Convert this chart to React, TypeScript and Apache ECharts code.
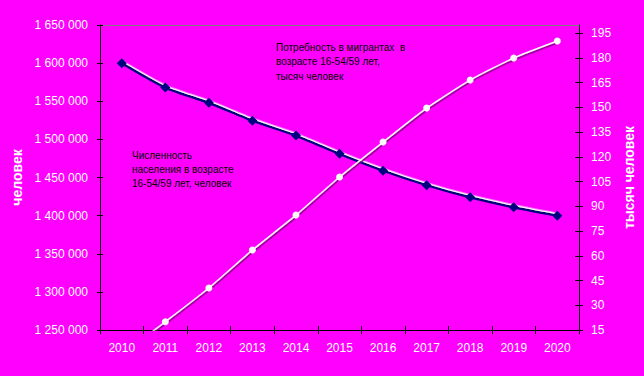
import React, { useEffect, useRef } from "react";
import * as echarts from "echarts";

const years = ["2010", "2011", "2012", "2013", "2014", "2015", "2016", "2017", "2018", "2019", "2020"];
const population = [1600000, 1568000, 1548000, 1524500, 1505000, 1481000, 1459000, 1440000, 1424000, 1411000, 1400000];
const migrants = [0, 20, 40.5, 63.5, 84.7, 107.8, 129, 149.6, 166.6, 180, 190.3];
const rightTicks = [15, 30, 45, 60, 75, 90, 105, 120, 135, 150, 165, 180, 195];

const leftName = "человек";
const rightName = "тысяч человек";
const note1 = ["Потребность в мигрантах  в", "возрасте 16-54/59 лет,", "тысяч человек"];
const note2 = ["Численность", "населения в возрасте", "16-54/59 лет, человек"];

const FONT = "'Liberation Sans', Arial, sans-serif";
const BG = "#FF00FF";

const fmt = (v: number) => String(v).replace(/\B(?=(\d{3})+(?!\d))/g, " ");

export default function App() {
  const ref = useRef<HTMLDivElement>(null);
  useEffect(() => {
    if (!ref.current) return;
    const chart = echarts.init(ref.current, null, { renderer: "svg" });
    const grid = { left: 100, right: 58, top: 25, bottom: 46 };
    const axisLabelStyle = { color: "#fff", fontSize: 12, fontFamily: FONT };
    chart.setOption({
      animation: false,
      backgroundColor: BG,
      grid,
      textStyle: { fontFamily: FONT },
      xAxis: [
        {
          type: "category",
          data: years,
          position: "bottom",
          boundaryGap: true,
          axisLine: { onZero: false, lineStyle: { color: "#000", width: 1 } },
          axisTick: { show: true, length: 4, lineStyle: { color: "#000" } },
          axisLabel: { ...axisLabelStyle, margin: 12 },
          splitLine: { show: false },
        },
        {
          type: "category",
          data: years,
          position: "bottom",
          boundaryGap: true,
          axisLine: { show: false, onZero: false },
          axisTick: { show: true, inside: true, length: 4, lineStyle: { color: "#000" } },
          axisLabel: { show: false },
          splitLine: { show: false },
        },
        {
          type: "category",
          data: years,
          position: "top",
          axisLine: { onZero: false, lineStyle: { color: "#808080", width: 1 } },
          axisTick: { show: false },
          axisLabel: { show: false },
          splitLine: { show: false },
        },
      ],
      yAxis: [
        {
          type: "value",
          position: "left",
          min: 1250000,
          max: 1650000,
          interval: 50000,
          name: leftName,
          nameLocation: "middle",
          nameRotate: 90,
          nameGap: 72,
          nameTextStyle: { color: "#fff", fontSize: 14, fontWeight: "bold", fontFamily: FONT },
          axisLine: { show: true, onZero: false, lineStyle: { color: "#000", width: 1 } },
          axisTick: { show: true, length: 3, lineStyle: { color: "#000" } },
          axisLabel: { ...axisLabelStyle, margin: 12, formatter: (v: number) => fmt(v) },
          splitLine: { show: false },
        },
        {
          type: "value",
          position: "right",
          min: 15,
          max: 200,
          interval: 15,
          name: rightName,
          nameLocation: "middle",
          nameRotate: 90,
          nameGap: 26,
          nameTextStyle: { color: "#fff", fontSize: 14, fontWeight: "bold", fontFamily: FONT },
          axisLine: { show: true, onZero: false, lineStyle: { color: "#000", width: 1 } },
          axisTick: { show: true, length: 4, customValues: rightTicks, lineStyle: { color: "#000" } },
          axisLabel: { ...axisLabelStyle, margin: 12, customValues: rightTicks },
          splitLine: { show: false },
        },
        {
          type: "value",
          position: "left",
          min: 1250000,
          max: 1650000,
          interval: 50000,
          axisLine: { show: false, onZero: false },
          axisTick: { show: true, inside: true, length: 3, lineStyle: { color: "#000" } },
          axisLabel: { show: false },
          splitLine: { show: false },
        },
        {
          type: "value",
          position: "right",
          min: 15,
          max: 200,
          interval: 15,
          axisLine: { show: false, onZero: false },
          axisTick: { show: true, inside: true, length: 4, customValues: rightTicks, lineStyle: { color: "#000" } },
          axisLabel: { show: false },
          splitLine: { show: false },
        },
      ],
      series: [
        {
          name: "Численность населения",
          type: "line",
          xAxisIndex: 0,
          yAxisIndex: 0,
          data: population,
          smooth: 0.2,
          symbol: "diamond",
          symbolSize: 10,
          lineStyle: {
            color: "#000080",
            width: 2.5,
            shadowColor: "#ffffff",
            shadowOffsetX: 0,
            shadowOffsetY: -1.5,
            shadowBlur: 0,
          },
          itemStyle: { color: "#000080" },
          z: 3,
        },
        {
          name: "Потребность в мигрантах",
          type: "line",
          xAxisIndex: 0,
          yAxisIndex: 1,
          data: migrants,
          smooth: 0.2,
          clip: true,
          symbol: "circle",
          symbolSize: 7,
          showAllSymbol: true,
          lineStyle: {
            color: "#ffffff",
            width: 1.5,
            shadowColor: "#800080",
            shadowOffsetX: 1,
            shadowOffsetY: 1.5,
            shadowBlur: 0,
          },
          itemStyle: { color: "#ffffff" },
          z: 4,
        },
      ],
      graphic: [
        {
          type: "text",
          left: 276,
          top: 40,
          style: {
            text: note1.join("\n"),
            fill: "#000",
            font: `10px ${FONT}`,
            lineHeight: 14.5,
          },
          z: 10,
        },
        {
          type: "text",
          left: 132,
          top: 148,
          style: {
            text: note2.join("\n"),
            fill: "#000",
            font: `10px ${FONT}`,
            lineHeight: 14,
          },
          z: 10,
        },
      ],
    });
    return () => chart.dispose();
  }, []);
  return (
    <div
      ref={ref}
      style={{ position: "absolute", left: 0, top: 0, width: 644, height: 376, background: BG }}
    />
  );
}
